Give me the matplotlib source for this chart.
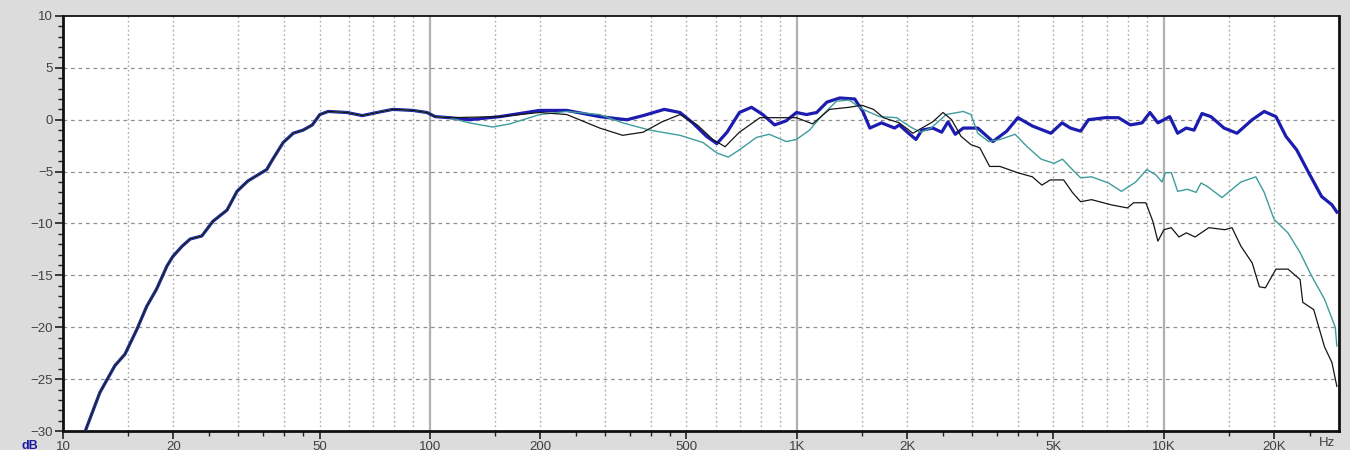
import matplotlib
matplotlib.use('Agg')
import matplotlib.pyplot as plt
from matplotlib.ticker import FixedLocator, NullFormatter

# shared low-frequency part (all three curves coincide here)
low_f = [11.0, 11.5, 12.6, 13.85, 14.75, 15.9, 16.9, 18.0, 19.2, 19.9, 21.1, 22.2, 23.9,
         25.6, 28.0, 29.8, 31.9, 34.4, 35.9, 37.3, 39.8, 42.4, 45.1, 47.8, 50.1, 52.8,
         59.4, 65.4, 71.8, 79.2, 89.7, 98.1, 103.3, 113]
low_db = [-31.5, -30.0, -26.3, -23.7, -22.6, -20.2, -18.0, -16.3, -14.1, -13.2, -12.2, -11.5, -11.2,
          -9.8, -8.7, -6.9, -5.9, -5.2, -4.8, -3.8, -2.2, -1.3, -1.0, -0.5, 0.5, 0.8,
          0.7, 0.4, 0.7, 1.0, 0.9, 0.7, 0.3, 0.2]

blue_f = [128, 155, 199, 236, 290, 344, 381, 435, 480, 520, 567, 605, 645, 697, 752, 807, 869,
          935, 997, 1062, 1132, 1207, 1309, 1437, 1512, 1580, 1700, 1846, 1900, 2000, 2110, 2190,
          2345, 2480, 2580, 2700, 2840, 3110, 3420, 3730, 4000, 4380, 4920, 5280, 5560, 5930,
          6230, 6920, 7520, 8100, 8720, 9160, 9630, 10370, 10900, 11500, 12080, 12700, 13430,
          14580, 15820, 17400, 18760, 20200, 21500, 23000, 24800, 26900, 28700, 29600]
blue_db = [0.0, 0.3, 0.9, 0.9, 0.3, 0.0, 0.4, 1.0, 0.7, -0.3, -1.6, -2.3, -1.2, 0.7, 1.2, 0.5, -0.5,
           -0.1, 0.7, 0.5, 0.7, 1.7, 2.1, 2.0, 0.8, -0.8, -0.3, -0.8, -0.5, -1.2, -1.9, -1.0,
           -0.8, -1.2, -0.2, -1.4, -0.8, -0.8, -2.1, -1.1, 0.2, -0.6, -1.3, -0.3, -0.8, -1.1,
           0.0, 0.2, 0.2, -0.5, -0.3, 0.7, -0.3, 0.3, -1.3, -0.8, -1.0, 0.6, 0.3,
           -0.8, -1.3, 0.0, 0.8, 0.3, -1.6, -2.9, -5.1, -7.4, -8.2, -8.9]

black_f = [155, 199, 236, 290, 335, 381, 429, 480, 535, 590, 637, 697, 793, 913, 997, 1103, 1227,
           1387, 1502, 1617, 1720, 1900, 2070, 2190, 2345, 2500, 2640, 2800, 2980, 3150, 3350,
           3575, 3990, 4380, 4650, 4900, 5330, 5630, 5930, 6350, 7180, 7950, 8270, 8930, 9330,
           9630, 10000, 10470, 10990, 11510, 12160, 13260, 14660, 15330, 16220, 17400, 18200,
           18900, 20200, 21800, 23500, 23900, 25600, 27400, 28700, 29600]
black_db = [0.3, 0.7, 0.5, -0.8, -1.5, -1.2, -0.2, 0.5, -0.5, -1.9, -2.6, -1.2, 0.2, 0.2, 0.2, -0.4, 1.0,
            1.2, 1.4, 1.0, 0.2, -0.3, -1.3, -0.8, -0.2, 0.7, 0.0, -1.6, -2.4, -2.7, -4.5,
            -4.5, -5.1, -5.5, -6.3, -5.8, -5.8, -7.0, -7.9, -7.7, -8.2, -8.5, -8.0, -8.0, -9.8,
            -11.7, -10.6, -10.4, -11.3, -10.9, -11.3, -10.4, -10.6, -10.4, -12.2, -13.8, -16.1,
            -16.2, -14.4, -14.4, -15.4, -17.6, -18.3, -21.9, -23.4, -25.7]

teal_f = [128, 148, 165, 199, 236, 290, 335, 397, 480, 555, 605, 650, 697, 776, 840, 935, 997,
          1082, 1177, 1283, 1387, 1512, 1680, 1870, 2040, 2170, 2320, 2550, 2840, 2980, 3110,
          3330, 3580, 3930, 4240, 4630, 5020, 5290, 5630, 5930, 6350, 7070, 7660, 8380, 8980,
          9500, 9880, 10100, 10480, 10900, 11600, 12240, 12620, 13100, 14400, 15330, 16220,
          17800, 18760, 19960, 21770, 23500, 25300, 27400, 29300, 29600]
teal_db = [-0.3, -0.7, -0.4, 0.5, 0.8, 0.5, -0.3, -1.0, -1.5, -2.2, -3.2, -3.6, -2.9, -1.7, -1.4, -2.1, -1.9,
           -1.0, 0.5, 1.8, 1.9, 1.0, 0.3, 0.2, -0.7, -1.2, -0.8, 0.5, 0.8, 0.5, -1.3,
           -2.1, -1.9, -1.4, -2.6, -3.8, -4.2, -3.8, -4.8, -5.6, -5.5, -6.1, -6.9, -6.0, -4.8,
           -5.3, -6.0, -5.1, -5.1, -6.9, -6.7, -7.0, -6.1, -6.4, -7.5, -6.7, -6.0,
           -5.5, -7.0, -9.6, -10.9, -12.8, -15.1, -17.3, -20.0, -21.8]

xtick_vals = [10, 20, 50, 100, 200, 500, 1000, 2000, 5000, 10000, 20000]
xtick_labels = ['10', '20', '50', '100', '200', '500', '1K', '2K', '5K', '10K', '20K']
ytick_vals = [10, 5, 0, -5, -10, -15, -20, -25, -30]

plt.rcParams['font.family'] = ['Liberation Sans', 'DejaVu Sans']

fig = plt.figure(figsize=(13.5, 4.5), dpi=100, facecolor='#dcdcdc')
ax = fig.add_axes([63 / 1350, 1 - 431 / 450, (1339 - 63) / 1350, (431 - 16) / 450])
ax.set_facecolor('white')
ax.set_xscale('log')
ax.set_xlim(10, 30000)
ax.set_ylim(-30, 10)

# grid: dotted at 1.5..9 multiples, solid at decades, dashed horizontals
for dec in [10, 100, 1000, 10000]:
    for m in [1.5, 2, 3, 4, 5, 6, 7, 8, 9]:
        f = dec * m
        if f < 30000:
            ax.axvline(f, color='#ababab', lw=1.0, ls=(0, (1.2, 2)), zorder=1)
    if dec > 10:
        ax.axvline(dec, color='#b0b0b0', lw=1.6, zorder=1)
for v in ytick_vals[1:-1]:
    ax.axhline(v, color='#909090', lw=0.9, ls=(0, (3, 3)), zorder=1)

ax.plot(low_f + blue_f, low_db + blue_db, color='#1c1cb0', lw=2.3, zorder=3)
ax.plot(low_f + teal_f, low_db + teal_db, color='#3f9c9c', lw=1.0, zorder=4)
ax.plot(low_f + black_f, low_db + black_db, color='#151515', lw=0.9, zorder=5)

ax.xaxis.set_major_locator(FixedLocator(xtick_vals))
ax.set_xticklabels(xtick_labels)
minor_x = [d * m for d in [10, 100, 1000, 10000] for m in [1.5, 2.5, 3, 3.5, 4, 4.5]]
minor_x = [f for f in minor_x if f < 30000]
ax.xaxis.set_minor_locator(FixedLocator(minor_x))
ax.xaxis.set_minor_formatter(NullFormatter())
ax.set_yticks(ytick_vals)
ax.yaxis.set_minor_locator(FixedLocator(list(range(-30, 11))))

ax.tick_params(axis='both', which='major', direction='out', length=6, width=1.2,
               labelsize=9.5, labelcolor='#404040', color='#202020', pad=1)
ax.tick_params(axis='both', which='minor', direction='out', length=3.5, width=1.0, color='#202020')

for side in ['left', 'bottom', 'right']:
    ax.spines[side].set_linewidth(2.0)
    ax.spines[side].set_color('#101010')
ax.spines['top'].set_linewidth(1.3)
ax.spines['top'].set_color('#101010')

fig.text(22 / 1350, 1 - 446 / 450, 'dB', color='#1a1aa0', fontsize=9, fontweight='bold',
         va='center', ha='left')
fig.text(1327 / 1350, 1 - 443 / 450, 'Hz', color='#404040', fontsize=9.5, va='center', ha='center')

fig.savefig('out.png', dpi=100, facecolor=fig.get_facecolor())
